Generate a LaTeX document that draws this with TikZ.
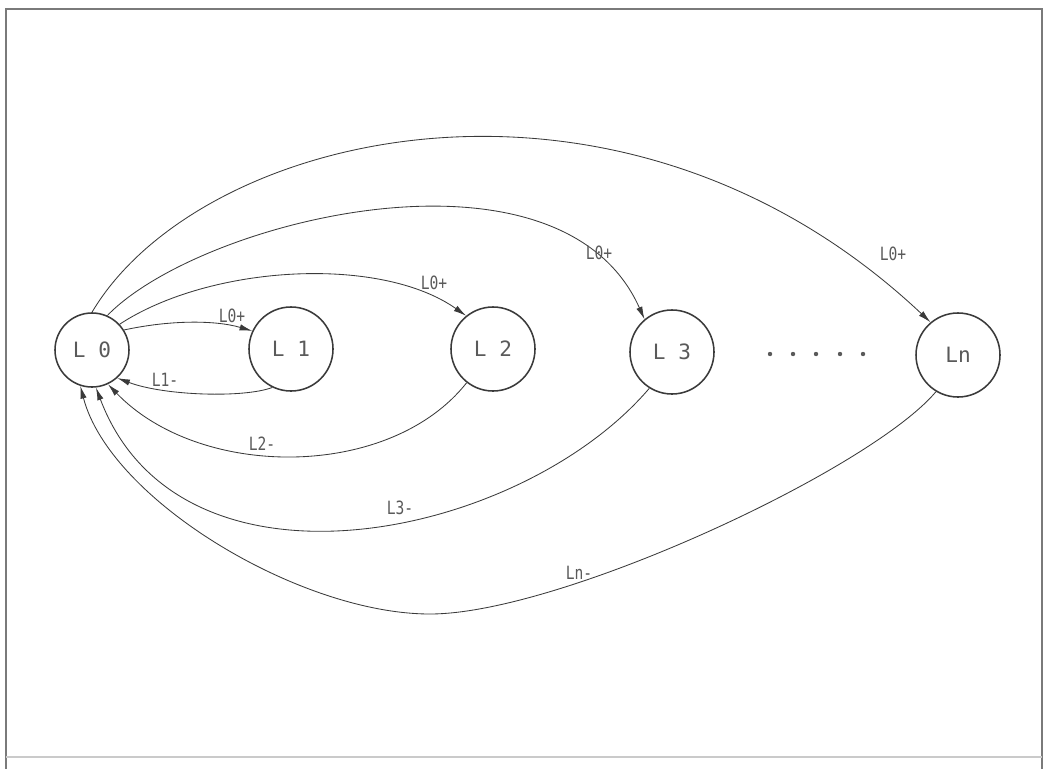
\documentclass[tikz,border=0pt]{standalone}
\usepackage{fontspec}
\usetikzlibrary{arrows.meta}
\newfontfamily\nodefont{DejaVu Sans Mono}
\newfontfamily\lblfont[FakeStretch=0.8]{DejaVu Sans Mono}
\definecolor{ink}{HTML}{3A3A3A}
\definecolor{txt}{HTML}{5A5A5A}
\definecolor{frame}{HTML}{7A7A7A}
\tikzset{
  state/.style={circle, draw=ink, line width=1.1pt, inner sep=0pt, minimum size=2.1cm,
                font=\nodefont\fontsize{15}{15}\selectfont, text=txt},
  lbl/.style={font=\lblfont\fontsize{13}{13}\selectfont, text=txt, inner sep=0pt},
  conn/.style={draw=ink, line width=0.6pt, -{Latex[length=9pt,width=4.5pt]}},
}
\begin{document}
\begin{tikzpicture}[x=0.025cm,y=-0.025cm]
\useasboundingbox (0,0) rectangle (1046,769);
% frame
\draw[frame, line width=1.2pt] (6,769) -- (6,9) -- (1042,9) -- (1042,769);
\draw[frame!40, line width=0.8pt] (6,757) -- (1042,757);

% states
\node[state, minimum size=1.85cm] (L0) at (92,350) {L 0};
\node[state] (L1) at (291,349) {L 1};
\node[state] (L2) at (493,349) {L 2};
\node[state] (L3) at (672,352) {L 3};
\node[state] (Ln) at (958,355) {Ln};

% dots
\foreach \x in {770,793,816,840,863} \fill[txt] (\x,354) circle (2.2);

% forward edges
\draw[conn] (L0.32) .. controls (170,320) and (215,320) .. (L1.155);
\draw[conn] (L0.43) .. controls (210,265) and (380,255) .. (L2.129);
\draw[conn] (L0.66) .. controls (200,220) and (560,130) .. (L3.130);
\draw[conn] (L0.90) .. controls (200,130) and (620,30) .. (Ln.130);

% return edges
\draw[conn] (L1.-116) .. controls (245,398) and (165,396) .. (L0.-48);
\draw[conn] (L2.-128) .. controls (390,480) and (200,480) .. (L0.-65);
\draw[conn] (L3.-122) .. controls (520,540) and (180,610) .. (L0.-84);
\coordinate (m) at (430,614);
\draw[conn] (Ln.-121) .. controls (870,470) and (560,614) .. (m)
            .. controls (300,614) and (110,500) .. (L0.-108);

% labels
\node[lbl] (a1) at (232,316) {L0+};
\node[lbl] (a2) at (434,283) {L0+};
\node[lbl] (a3) at (599,253) {L0+};
\node[lbl] (an) at (893,254) {L0+};
\node[lbl] (b1) at (165,380) {L1-};
\node[lbl] (b2) at (262,444) {L2-};
\node[lbl] (b3) at (400,508) {L3-};
\node[lbl] (bn) at (579,573) {Ln-};
\end{tikzpicture}
\end{document}
